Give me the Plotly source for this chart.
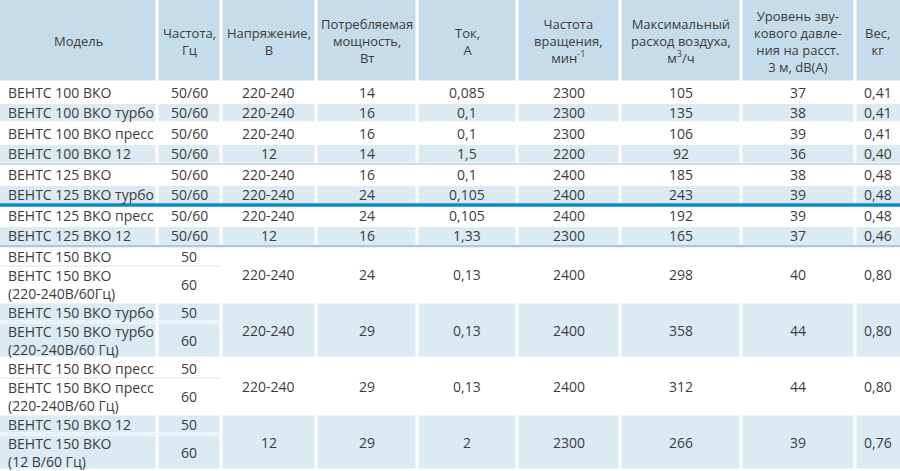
import plotly.graph_objects as go

headers = ["Модель", "Частота,<br>Гц", "Напряжение,<br>В", "Потребляемая<br>мощность,<br>Вт",
           "Ток,<br>А", "Частота<br>вращения,<br>мин<sup>-1</sup>", "Максимальный<br>расход воздуха,<br>м<sup>3</sup>/ч",
           "Уровень зву-<br>кового давле-<br>ния на расст.<br>3 м, dB(A)", "Вес,<br>кг"]

models = ["ВЕНТС 100 ВКО", "ВЕНТС 100 ВКО турбо", "ВЕНТС 100 ВКО пресс", "ВЕНТС 100 ВКО 12",
          "ВЕНТС 125 ВКО", "ВЕНТС 125 ВКО турбо", "ВЕНТС 125 ВКО пресс", "ВЕНТС 125 ВКО 12"]
freq = ["50/60"] * 8
voltage = ["220-240", "220-240", "220-240", "12", "220-240", "220-240", "220-240", "12"]
power = ["14", "16", "16", "14", "16", "24", "24", "16"]
current = ["0,085", "0,1", "0,1", "1,5", "0,1", "0,105", "0,105", "1,33"]
rpm = ["2300", "2300", "2300", "2200", "2400", "2400", "2400", "2300"]
airflow = ["105", "135", "106", "92", "185", "243", "192", "165"]
noise = ["37", "38", "39", "36", "38", "39", "39", "37"]
weight = ["0,41", "0,41", "0,41", "0,40", "0,48", "0,48", "0,48", "0,46"]

g_model_a = ["ВЕНТС 150 ВКО", "ВЕНТС 150 ВКО турбо", "ВЕНТС 150 ВКО пресс", "ВЕНТС 150 ВКО 12"]
g_model_b = ["ВЕНТС 150 ВКО<br>(220-240В/60Гц)", "ВЕНТС 150 ВКО турбо<br>(220-240В/60 Гц)",
             "ВЕНТС 150 ВКО пресс<br>(220-240В/60 Гц)", "ВЕНТС 150 ВКО<br>(12 В/60 Гц)"]
g_freq = ["50", "60"]
g_voltage = ["220-240", "220-240", "220-240", "12"]
g_power = ["24", "29", "29", "29"]
g_current = ["0,13", "0,13", "0,13", "2"]
g_rpm = ["2400", "2400", "2400", "2300"]
g_airflow = ["298", "358", "312", "266"]
g_noise = ["40", "44", "44", "39"]
g_weight = ["0,80", "0,80", "0,80", "0,76"]

edges = [0, 157, 221, 316, 417, 517, 620, 741, 855, 900]
HEAD_H, ROW_H, SUB1_H, GRP_H = 82, 20.5, 20, 56
HEAD_BG, BLUE, WHITE = "#c5dcea", "#dbeaf3", "#ffffff"
TXT = "#3c3c3c"
FONT = "Open Sans"
GAP = 1.5

shapes, ann = [], []

def cell(c0, c1, y0, y1, fill):
    shapes.append(dict(type="rect", xref="x", yref="y", x0=edges[c0] + (GAP if c0 else 0),
                       x1=edges[c1] - (GAP if c1 < len(edges) - 1 else 0),
                       y0=y0 + GAP, y1=y1 - GAP, fillcolor=fill, line=dict(width=0), layer="below"))

def text(c, y, s, left=False, size=14):
    if left:
        ann.append(dict(x=edges[c] + 6, y=y, text=s, xanchor="left", showarrow=False, align="left",
                        font=dict(family=FONT, size=size, color=TXT)))
    else:
        ann.append(dict(x=(edges[c] + edges[c + 1]) / 2, y=y, text=s, showarrow=False, align="center",
                        font=dict(family=FONT, size=size, color=TXT)))

def hline(y, color, w):
    shapes.append(dict(type="line", xref="x", yref="y", x0=0, x1=900, y0=y, y1=y,
                       line=dict(color=color, width=w)))

for c, h in enumerate(headers):
    cell(c, c + 1, -GAP, HEAD_H, HEAD_BG)
    text(c, HEAD_H / 2, h, size=13)

y = HEAD_H
for i in range(len(models)):
    bg = WHITE if i % 2 == 0 else BLUE
    vals = [models[i], freq[i], voltage[i], power[i], current[i], rpm[i], airflow[i], noise[i], weight[i]]
    for c, v in enumerate(vals):
        cell(c, c + 1, y, y + ROW_H, bg)
        text(c, y + ROW_H / 2, v, left=(c == 0))
    y += ROW_H

sep_ys = [HEAD_H + 4 * ROW_H, HEAD_H + 8 * ROW_H]
for g in range(len(g_model_a)):
    bg = WHITE if g % 2 == 0 else BLUE
    y0 = y
    cell(0, 1, y0, y0 + SUB1_H, bg)
    text(0, y0 + SUB1_H / 2, g_model_a[g], left=True)
    cell(0, 1, y0 + SUB1_H, y0 + GRP_H, bg)
    text(0, y0 + SUB1_H + (GRP_H - SUB1_H) / 2, g_model_b[g], left=True)
    cell(1, 2, y0, y0 + SUB1_H, bg)
    text(1, y0 + SUB1_H / 2, g_freq[0])
    cell(1, 2, y0 + SUB1_H, y0 + GRP_H, bg)
    text(1, y0 + SUB1_H + (GRP_H - SUB1_H) / 2, g_freq[1])
    shapes.append(dict(type="line", x0=0, x1=edges[2], y0=y0 + SUB1_H, y1=y0 + SUB1_H,
                       line=dict(color="#e3eef5", width=1.5)))
    vals = [g_voltage[g], g_power[g], g_current[g], g_rpm[g], g_airflow[g], g_noise[g], g_weight[g]]
    for k, v in enumerate(vals):
        c = k + 2
        cell(c, c + 1, y0, y0 + GRP_H, bg)
        text(c, y0 + GRP_H / 2, v)
    y += GRP_H

hline(sep_ys[0], "#b8d3e5", 1.5)
hline(sep_ys[1], "#a9c9df", 2.5)
hline(HEAD_H + 6 * ROW_H, "#0a87d6", 3.5)

fig = go.Figure()
fig.update_layout(width=900, height=471, margin=dict(l=0, r=0, t=0, b=0),
                  paper_bgcolor="white", plot_bgcolor="white", shapes=shapes, annotations=ann,
                  xaxis=dict(range=[0, 900], visible=False, fixedrange=True),
                  yaxis=dict(range=[471, 0], visible=False, fixedrange=True),
                  showlegend=False)
fig.write_html("out.html", config={"displayModeBar": False})

with open("out.html", encoding="utf-8") as f:
    html = f.read()
html = html.replace("<body>", '<body style="margin:0;padding:0;overflow:hidden">', 1)
with open("out.html", "w", encoding="utf-8") as f:
    f.write(html)
